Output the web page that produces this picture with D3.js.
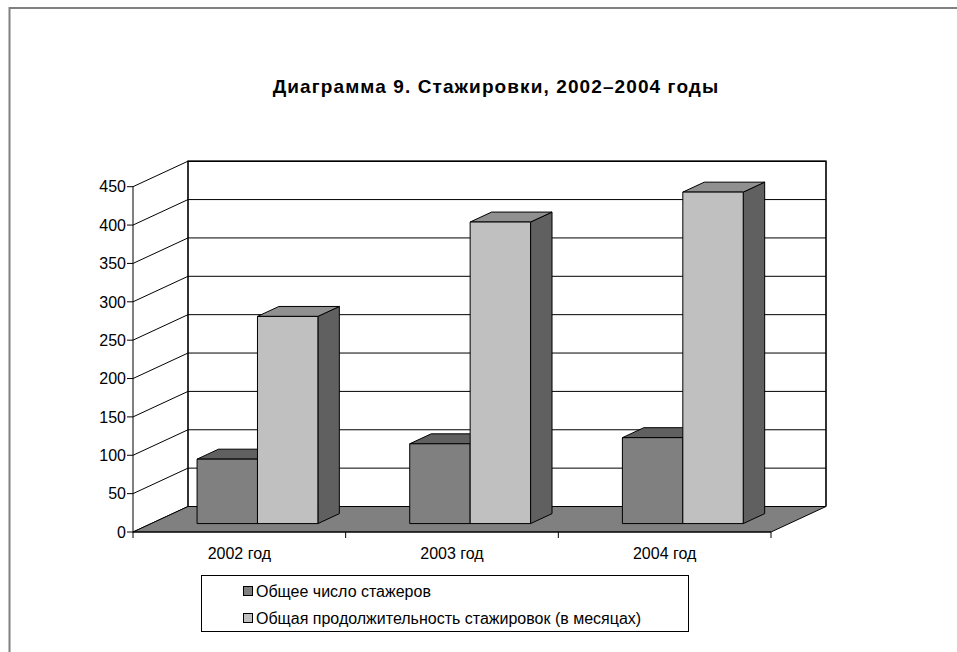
<!DOCTYPE html>
<html>
<head>
<meta charset="utf-8">
<script src="https://cdn.jsdelivr.net/npm/d3@7"></script>
<style>
  body { margin: 0; background: #fff; }
  svg { display: block; }
  text { font-family: "Liberation Sans Narrow", "Arial Narrow", "Liberation Sans", sans-serif; fill: #000; }
</style>
</head>
<body>
<svg id="chart" width="957" height="652"></svg>
<script>
var categories = ["2002 год", "2003 год", "2004 год"],
    seriesNames = ["Общее число стажеров", "Общая продолжительность стажировок (в месяцах)"],
    trainees = [84, 104, 112],
    months = [270, 393, 432],
    yTicks = [0, 50, 100, 150, 200, 250, 300, 350, 400, 450];

var series = [trainees, months];
var frontCol = ["#808080", "#c0c0c0"],
    topCol = ["#606060", "#909090"],
    sideCol = ["#404040", "#606060"];

// front plane of the box, and depth vector (to the back wall)
var plotLeft = 133, plotRight = 771, plotBottom = 532, plotTop = 186.7,
    depthX = 55, depthY = -25.5,
    bar0 = 0.33, bar1 = 0.72;   // bars sit between these depth fractions

var svg = d3.select("#chart");

var x = d3.scaleBand().domain(categories).range([plotLeft, plotRight]).paddingInner(0).paddingOuter(0);
var xs = d3.scaleBand().domain([0, 1]).range([0, x.bandwidth()]).paddingOuter(0.76).paddingInner(0);
var y = d3.scaleLinear().domain([0, 450]).range([plotBottom, plotTop]);

function pt(px, py, f){ return [px + depthX * f, py + depthY * f]; }
function poly(pts){ return pts.map(function(p){ return p.join(","); }).join(" "); }

// outer frame
svg.append("path")
    .attr("d", "M9.5,652 L9.5,8 L957,8")
    .attr("fill", "none")
    .attr("stroke", "#808080")
    .attr("stroke-width", 2);

// title
svg.append("text")
    .attr("x", 496).attr("y", 93)
    .attr("text-anchor", "middle")
    .style("font-size", "19px")
    .style("font-weight", "bold")
    .style("letter-spacing", "1.1px")
    .text("Диаграмма 9. Стажировки, 2002–2004 годы");

var plot = svg.append("g");

// back wall gridlines
plot.selectAll(".grid").data(yTicks).enter().append("line")
    .attr("class", "grid")
    .attr("x1", plotLeft + depthX).attr("x2", plotRight + depthX)
    .attr("y1", function(d){ return y(d) + depthY; })
    .attr("y2", function(d){ return y(d) + depthY; })
    .attr("stroke", "#000").attr("stroke-width", 1);

// side wall lines
plot.selectAll(".side").data(yTicks).enter().append("line")
    .attr("class", "side")
    .attr("x1", plotLeft).attr("x2", plotLeft + depthX)
    .attr("y1", function(d){ return y(d); })
    .attr("y2", function(d){ return y(d) + depthY; })
    .attr("stroke", "#000").attr("stroke-width", 1);

// back wall frame
plot.append("path")
    .attr("d", "M" + (plotLeft + depthX) + "," + (plotBottom + depthY) +
               " L" + (plotLeft + depthX) + "," + (plotTop + depthY) +
               " L" + (plotRight + depthX) + "," + (plotTop + depthY) +
               " L" + (plotRight + depthX) + "," + (plotBottom + depthY))
    .attr("fill", "none").attr("stroke", "#000").attr("stroke-width", 1.6);

// floor
plot.append("polygon")
    .attr("points", poly([[plotLeft, plotBottom], [plotRight, plotBottom], pt(plotRight, plotBottom, 1), pt(plotLeft, plotBottom, 1)]))
    .attr("fill", "#808080").attr("stroke", "#000").attr("stroke-width", 1);

// bars
var bars = [];
categories.forEach(function(c, i){
  series.forEach(function(s, j){
    bars.push({cat: c, s: j, v: s[i]});
  });
});

var g = plot.selectAll(".bar").data(bars).enter().append("g").attr("class", "bar");

g.each(function(d){
  var x0 = x(d.cat) + xs(d.s), x1 = x0 + xs.bandwidth(),
      yb = y(0), yt = y(d.v), sel = d3.select(this);
  var fbl = pt(x0, yb, bar0), fbr = pt(x1, yb, bar0), ftl = pt(x0, yt, bar0), ftr = pt(x1, yt, bar0),
      btl = pt(x0, yt, bar1), btr = pt(x1, yt, bar1), bbr = pt(x1, yb, bar1);
  sel.append("polygon").attr("points", poly([fbr, ftr, btr, bbr]))
      .attr("fill", sideCol[d.s]).attr("stroke", "#000").attr("stroke-width", 1).attr("stroke-linejoin", "round");
  sel.append("polygon").attr("points", poly([ftl, ftr, btr, btl]))
      .attr("fill", topCol[d.s]).attr("stroke", "#000").attr("stroke-width", 1).attr("stroke-linejoin", "round");
  sel.append("polygon").attr("points", poly([fbl, fbr, ftr, ftl]))
      .attr("fill", frontCol[d.s]).attr("stroke", "#000").attr("stroke-width", 1).attr("stroke-linejoin", "round");
});

// y axis (front left edge)
plot.append("line")
    .attr("x1", plotLeft).attr("x2", plotLeft).attr("y1", plotBottom).attr("y2", plotTop)
    .attr("stroke", "#000").attr("stroke-width", 1);

plot.selectAll(".ytick").data(yTicks).enter().append("line")
    .attr("class", "ytick")
    .attr("x1", plotLeft - 6).attr("x2", plotLeft)
    .attr("y1", function(d){ return y(d); }).attr("y2", function(d){ return y(d); })
    .attr("stroke", "#000");

plot.selectAll(".ylab").data(yTicks).enter().append("text")
    .attr("class", "ylab")
    .attr("x", plotLeft - 7)
    .attr("y", function(d){ return y(d); })
    .attr("dy", "0.36em")
    .attr("text-anchor", "end")
    .style("font-size", "16px")
    .text(function(d){ return d; });

// x axis
plot.append("line")
    .attr("x1", plotLeft).attr("x2", plotRight).attr("y1", plotBottom).attr("y2", plotBottom)
    .attr("stroke", "#000");

var xt = [plotLeft].concat(categories.map(function(c){ return x(c) + x.bandwidth(); }));
plot.selectAll(".xtick").data(xt).enter().append("line")
    .attr("class", "xtick")
    .attr("x1", function(d){ return d; }).attr("x2", function(d){ return d; })
    .attr("y1", plotBottom).attr("y2", plotBottom + 6)
    .attr("stroke", "#000");

plot.selectAll(".xlab").data(categories).enter().append("text")
    .attr("class", "xlab")
    .attr("x", function(d){ return x(d) + x.bandwidth() / 2; })
    .attr("y", 559)
    .attr("text-anchor", "middle")
    .style("font-size", "16px")
    .text(function(d){ return d; });

// legend
var legend = svg.append("g");
legend.append("rect")
    .attr("x", 201.5).attr("y", 575.5).attr("width", 487).attr("height", 56)
    .attr("fill", "#fff").attr("stroke", "#000").attr("stroke-width", 1);

var li = legend.selectAll(".li").data(seriesNames).enter().append("g")
    .attr("class", "li")
    .attr("transform", function(d, i){ return "translate(243," + (591 + i * 27) + ")"; });
li.append("rect")
    .attr("x", 0.5).attr("y", -4.5).attr("width", 9).attr("height", 9)
    .attr("fill", function(d, i){ return frontCol[i]; })
    .attr("stroke", "#000");
li.append("text")
    .attr("x", 13).attr("dy", "0.36em")
    .style("font-size", "16px")
    .text(function(d){ return d; });
</script>
</body>
</html>
